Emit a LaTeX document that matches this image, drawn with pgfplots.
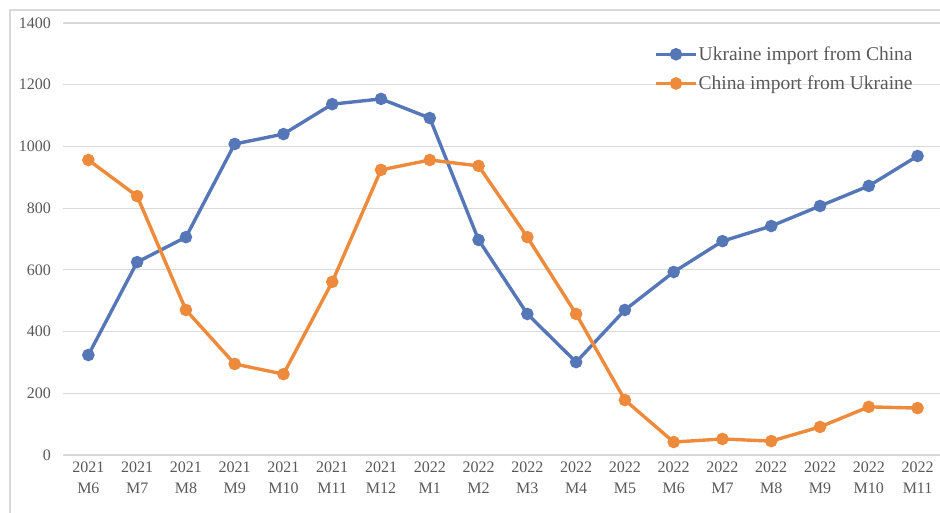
\documentclass[border=0pt]{standalone}
\usepackage{fontspec}
\setmainfont{Liberation Serif}
\usepackage{pgfplots}
\pgfplotsset{compat=1.18}

\definecolor{uablue}{HTML}{5677B7}
\definecolor{cnorange}{HTML}{EE8A3B}
\definecolor{gridgray}{HTML}{D9D9D9}
\definecolor{labelgray}{HTML}{595959}

\begin{document}
\begin{tikzpicture}
  % canvas and chart-area frame
  \useasboundingbox (0bp,0bp) rectangle (940bp,513bp);
  \draw[gridgray, line width=1.2bp] (10bp,-5bp) -- (10bp,503bp) -- (945bp,503bp);

  \begin{axis}[
    at={(63bp,58bp)}, anchor=south west,
    scale only axis,
    width=877bp, height=432bp,
    xmin=-0.52, xmax=17.46,
    ymin=0, ymax=1400,
    ytick={0,200,...,1400},
    xtick={0,...,17},
    xticklabels={{2021\\M6},{2021\\M7},{2021\\M8},{2021\\M9},{2021\\M10},{2021\\M11},{2021\\M12},
                 {2022\\M1},{2022\\M2},{2022\\M3},{2022\\M4},{2022\\M5},{2022\\M6},{2022\\M7},
                 {2022\\M8},{2022\\M9},{2022\\M10},{2022\\M11}},
    xticklabel style={align=center, font=\fontsize{16bp}{21bp}\selectfont, text=labelgray, inner sep=0pt, yshift=-7bp},
    yticklabel style={font=\fontsize{16bp}{20bp}\selectfont, text=labelgray, inner sep=0pt, xshift=-12bp},
    /pgf/number format/1000 sep={},
    /pgf/number format/assume math mode=true,
    axis line style={draw=none},
    major tick length=0pt,
    ymajorgrids,
    grid style={gridgray, line width=1.2bp},
    clip=false,
    legend cell align=left,
    legend style={draw=none, fill=none, at={(0.674,0.948)}, anchor=north west,
                  font=\fontsize{19.5bp}{22bp}\selectfont, text=labelgray,
                  row sep=12bp, inner sep=0pt,
                  nodes={inner sep=1pt}},
    legend image code/.code={
      \draw[#1, mark=none] (0bp,0bp) -- (40bp,0bp);
      \draw[#1, only marks] plot coordinates {(20bp,0bp)};
    },
  ]
    \addplot[uablue, line width=3.4bp, mark=*, mark size=4.5bp, mark options={solid}]
      coordinates {
        (0,324) (1,625) (2,706) (3,1008) (4,1040) (5,1137) (6,1154)
        (7,1092) (8,697) (9,457) (10,301) (11,470) (12,593) (13,693)
        (14,742) (15,807) (16,872) (17,969)
      };
    \addlegendentry{Ukraine import from China}

    \addplot[cnorange, line width=3.4bp, mark=*, mark size=4.5bp, mark options={solid}]
      coordinates {
        (0,956) (1,839) (2,470) (3,295) (4,262) (5,561) (6,924)
        (7,956) (8,937) (9,706) (10,457) (11,178) (12,42) (13,52)
        (14,45) (15,91) (16,156) (17,152)
      };
    \addlegendentry{China import from Ukraine}
  \end{axis}
\end{tikzpicture}
\end{document}
